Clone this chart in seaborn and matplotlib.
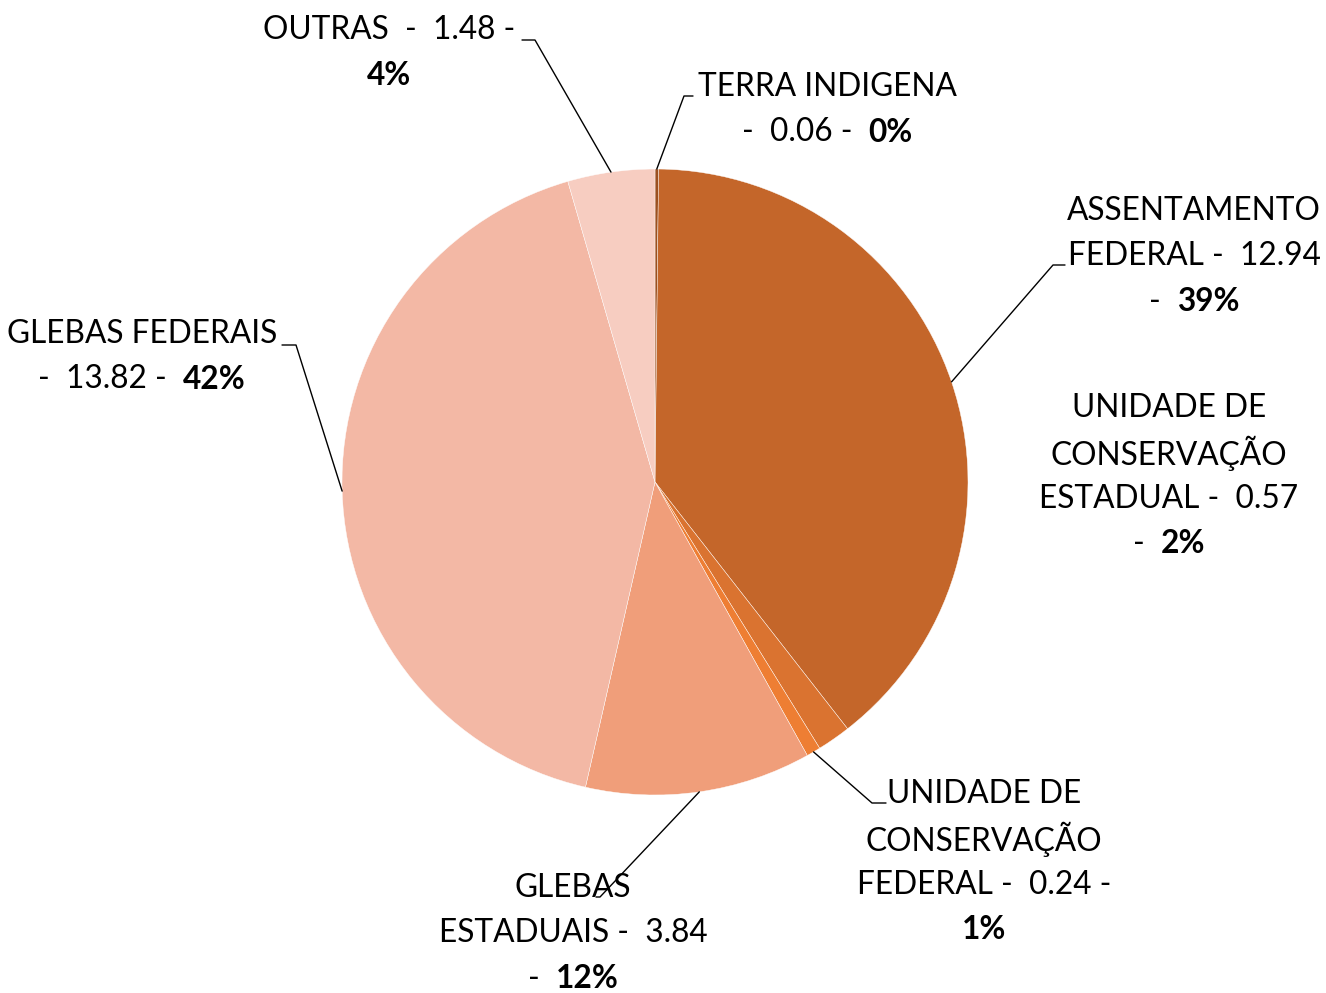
import numpy as np
import matplotlib
matplotlib.use("Agg")
import matplotlib.pyplot as plt
import seaborn as sns

sns.set_theme(style="white")
plt.rcParams['font.family'] = ['Lato', 'DejaVu Sans']

categories = ["TERRA INDIGENA", "ASSENTAMENTO FEDERAL", "UNIDADE DE CONSERVAÇÃO ESTADUAL",
              "UNIDADE DE CONSERVAÇÃO FEDERAL", "GLEBAS ESTADUAIS", "GLEBAS FEDERAIS", "OUTRAS"]
values = [0.06, 12.94, 0.57, 0.24, 3.84, 13.82, 1.48]
colors = ["#9C5020", "#C4662A", "#DA7330", "#EE7E33", "#F09E7A", "#F3B8A5", "#F7CDC1"]

# label text: list of lines, each line list of (text, bold)
label_lines = [
    [[("TERRA INDIGENA", False)], [("-  0.06 -  ", False), ("0%", True)]],
    [[("ASSENTAMENTO", False)], [("FEDERAL -  12.94", False)], [("-  ", False), ("39%", True)]],
    [[("UNIDADE DE", False)], [("CONSERVAÇÃO", False)], [("ESTADUAL -  0.57", False)], [("-  ", False), ("2%", True)]],
    [[("UNIDADE DE", False)], [("CONSERVAÇÃO", False)], [("FEDERAL -  0.24 -", False)], [("1%", True)]],
    [[("GLEBAS", False)], [("ESTADUAIS -  3.84", False)], [("-  ", False), ("12%", True)]],
    [[("GLEBAS FEDERAIS", False)], [("-  13.82 -  ", False), ("42%", True)]],
    [[("OUTRAS  -  1.48 -", False)], [("4%", True)]],
]
# label centre (x, first line y) in pixel coords, leader elbow and end
label_pos = [(827, 87), (1194, 211), (1169, 408), (984, 794), (573, 888), (142, 334), (389, 30)]
leader_elbow = [(684, 96), (1053, 265), None, (872, 803), (600, 897), (296, 345), (535, 40)]
leader_end = [(693, 96), (1065, 265), None, (886, 803), (596, 897), (282, 345), (522, 40)]

W, H = 1326, 993
cx, cy, R = 655, 482, 313
fig = plt.figure(figsize=(W / 100, H / 100), dpi=100)
ax = fig.add_axes([0, 0, 1, 1])

# pie drawn in flipped axis: counterclock=True in flipped y appears clockwise
wedges, _ = ax.pie(values, colors=colors, startangle=-90, counterclock=True,
                   center=(cx, cy), radius=R, frame=True,
                   wedgeprops=dict(edgecolor="white", linewidth=0.3))
ax.set_xlim(0, W)
ax.set_ylim(H, 0)
ax.axis("off")

fs = 22.8
line_h = 45.3
total = sum(values)
cum = np.cumsum([0] + values)
fig.canvas.draw()
r = fig.canvas.get_renderer()
for i in range(len(values)):
    mid = (cum[i] + cum[i + 1]) / 2 / total * 2 * np.pi
    sx, sy = cx + R * np.sin(mid), cy - R * np.cos(mid)
    if leader_elbow[i] is not None:
        ex, ey = leader_elbow[i]
        tx, ty = leader_end[i]
        ax.plot([sx, ex, tx], [sy, ey, ty], color="black", lw=1.0)
    lx, ly = label_pos[i]
    for j, line in enumerate(label_lines[i]):
        y = ly + j * line_h
        parts = []
        for txt, bold in line:
            t = ax.text(0, y, txt, fontsize=fs, fontweight="bold" if bold else "normal",
                        ha="left", va="center", color="black")
            parts.append(t)
        widths = [p.get_window_extent(r).width for p in parts]
        x = lx - sum(widths) / 2
        for p, w in zip(parts, widths):
            p.set_x(x)
            x += w

fig.savefig("out.png", dpi=100, facecolor="white")
